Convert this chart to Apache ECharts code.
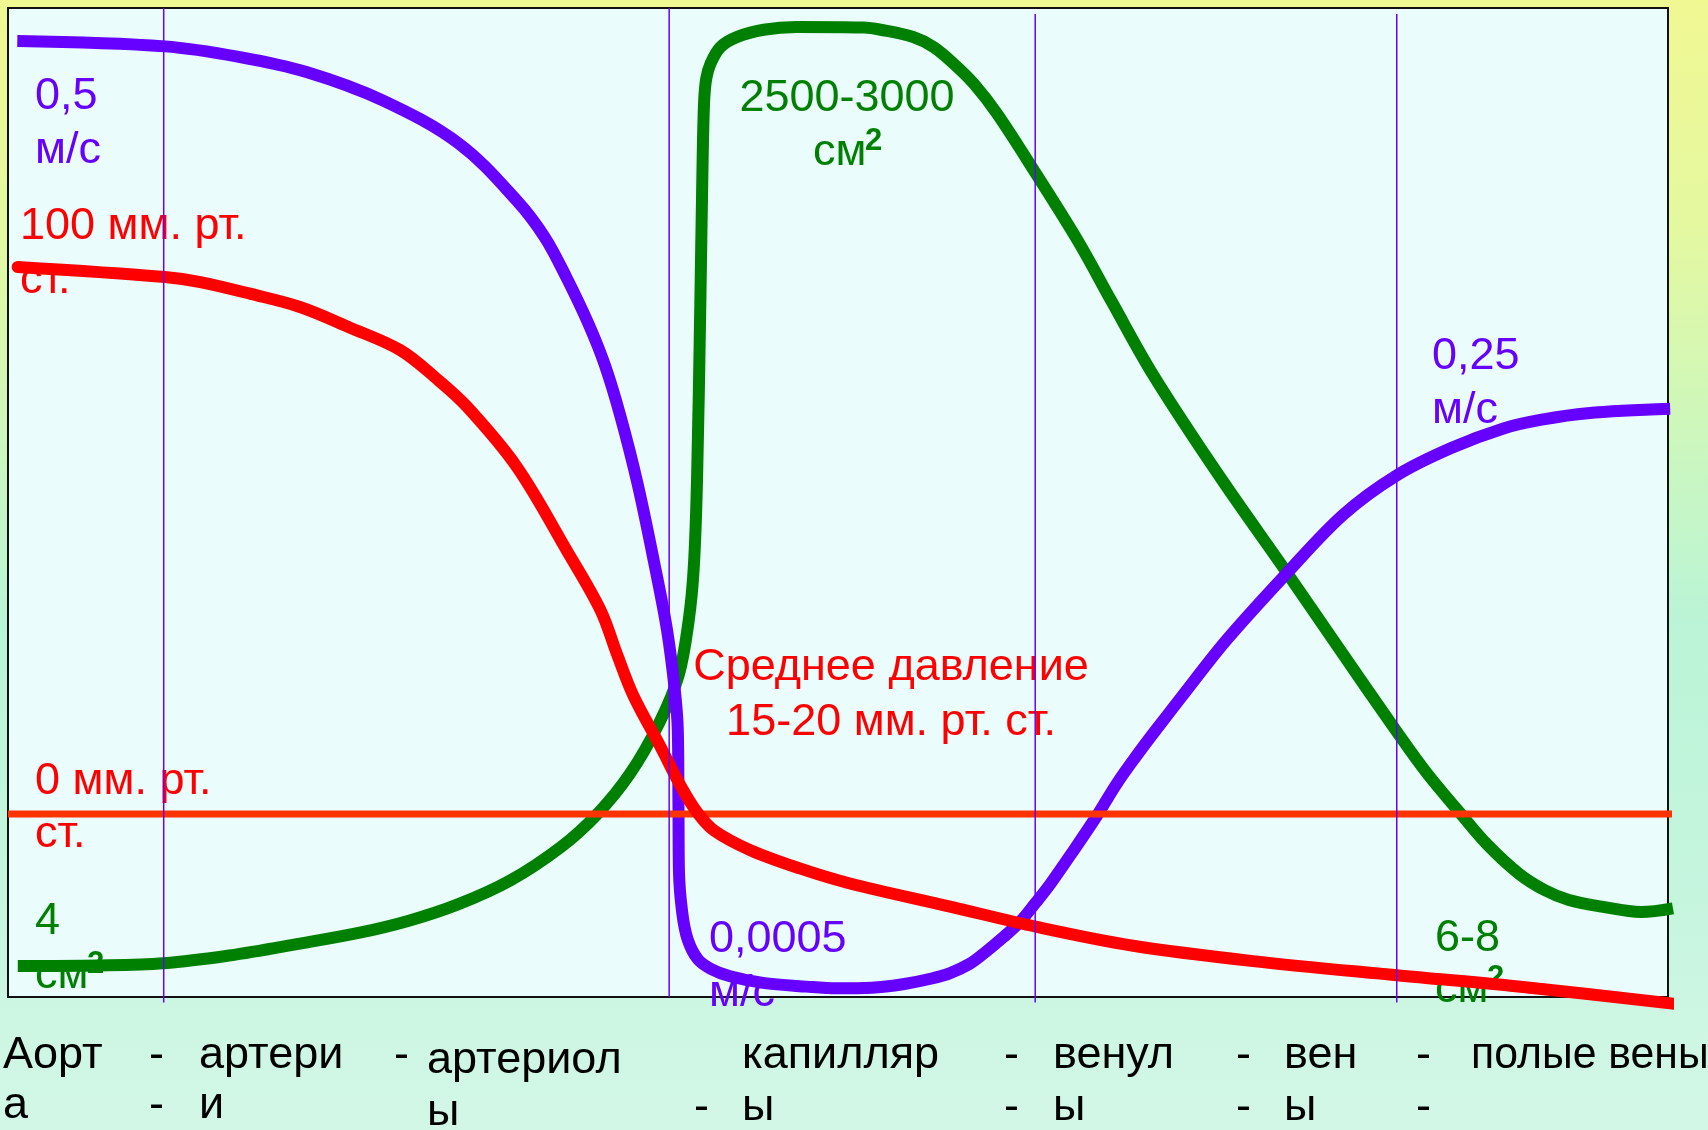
<!DOCTYPE html>
<html><head><meta charset="utf-8">
<script src="https://cdn.jsdelivr.net/npm/echarts@6/dist/echarts.min.js"></script>
<style>html,body{margin:0;padding:0;overflow:hidden}#c{width:1708px;height:1130px}</style>
</head><body><div id="c"></div>
<script>
// x: position along the vascular bed (0..100), y: relative level (0..100)
const velocity = [[0.56,96.66],[9.45,96.12],[13.98,95.04],[17.98,93.53],[22.57,90.66],[27.17,86.28],[30.64,80.55],[32.35,76.78],[33.66,72.69],[34.97,68.06],[35.96,63.88],[36.88,58.81],[37.93,51.87],[38.91,44.05],[39.70,37.11],[40.16,31.17],[40.35,26.98],[40.39,19.27],[40.42,12.67],[40.62,8.48],[40.94,5.84],[41.54,3.85],[42.32,2.86],[43.50,2.09],[45.47,1.43],[48.10,1.05],[49.93,0.88],[52.03,0.94],[54.00,1.32],[55.64,1.87],[56.76,2.42],[57.94,3.36],[58.79,4.41],[59.97,6.06],[60.96,7.60],[61.88,9.47],[62.80,11.45],[64.17,14.76],[65.62,18.39],[66.80,21.59],[67.91,24.23],[69.09,26.87],[70.67,30.29],[73.36,36.01],[77.03,42.84],[80.45,48.79],[83.66,52.75],[86.94,55.51],[90.09,57.49],[92.39,58.37],[95.14,59.03],[100.13,59.47]];
const pressure = [[0.58,73.81],[9.45,72.80],[11.59,72.29],[14.63,71.09],[17.59,69.77],[20.54,67.73],[23.62,65.42],[25.79,62.56],[27.65,59.69],[30.64,53.63],[33.66,45.15],[35.70,39.10],[36.68,34.69],[37.66,30.51],[39.30,25.33],[40.55,21.26],[41.54,18.61],[42.52,16.85],[44.69,14.87],[47.70,13.00],[50.72,11.48],[56.76,9.14],[61.99,7.08],[67.78,5.18],[75.00,3.63],[83.66,2.20],[91.40,0.99],[100.66,-0.74]];
const area = [[0.59,3.14],[5.45,3.19],[9.38,3.41],[13.32,4.19],[17.59,5.40],[21.19,6.50],[24.15,7.71],[27.10,9.36],[30.25,11.78],[33.33,15.20],[35.50,18.50],[37.47,22.58],[39.24,27.75],[40.40,32.52],[41.00,38.00],[41.31,43.39],[41.51,52.42],[41.71,70.48],[41.83,83.15],[41.93,90.31],[42.06,92.84],[42.32,94.38],[42.91,96.04],[43.90,97.06],[45.52,97.80],[47.51,98.07],[51.55,98.02],[52.56,97.80],[54.53,97.06],[55.75,96.05],[56.96,94.38],[58.18,92.35],[59.58,89.32],[61.88,83.37],[64.50,76.32],[66.47,70.37],[69.03,62.78],[73.03,52.53],[77.07,42.84],[80.18,35.24],[83.69,26.76],[85.50,22.58],[87.47,18.61],[89.11,15.42],[91.04,12.44],[92.59,10.79],[94.03,9.80],[96.00,9.14],[98.39,8.59],[100.30,8.96]];
const vesselBorders = [9.38, 39.83, 61.88, 83.66];
const vesselBorderTop = [100, 100, 99.4, 99.4];
const vesselBorderBottom = [-0.55, 0, -0.55, -0.55];
const zeroPressure = [[0, 18.5], [100.56, 18.5]];

const bottomRow1 = ['Аорт', '-', 'артери', '-', 'артериол', 'капилляр', '-', 'венул', '-', 'вен', '-', 'полые вены'];
const bottomRow2 = ['а', '-', 'и', 'ы', '-', 'ы', '-', 'ы', '-', 'ы', '-'];

const PURPLE = '#6600ff', RED = '#ff0000', GREEN = '#008000', ORANGE = '#ff3300';
const FONT = '45px "Liberation Sans", Arial, sans-serif';

function txt(text, x, y, color, align, sx) {
  align = align || 'left';
  return { type: 'text', x: x, y: y, z: 1, silent: true, scaleX: sx || 1,
    style: { text: text, fill: color, font: FONT, align: align, textAlign: align, verticalAlign: 'middle', textVerticalAlign: 'middle' } };
}
function sup(x, y, color) {
  return { type: 'text', x: x, y: y, z: 1, silent: true,
    style: { text: '2', fill: color, font: 'bold 31px "Liberation Sans", Arial, sans-serif', align: 'left', textAlign: 'left', verticalAlign: 'middle', textVerticalAlign: 'middle' } };
}

const row1X = [3, 149, 199, 394, 427, 742, 1004, 1053, 1236, 1284, 1416, 1471];
const row1Y = [1056, 1056, 1056, 1056, 1061, 1056, 1056, 1056, 1056, 1056, 1056, 1056];
const row1SX = [1, 1, 1, 1, 1, 1, 1, 1, 1, 1, 1, 0.95];
const row2X = [3, 149, 199, 427, 694, 742, 1004, 1053, 1236, 1284, 1416];
const row2Y = [1106, 1106, 1106, 1113, 1108, 1108, 1108, 1108, 1108, 1108, 1108];

const graphics = [];
bottomRow1.forEach((t, i) => graphics.push(txt(t, row1X[i], row1Y[i], '#000', 'left', row1SX[i])));
bottomRow2.forEach((t, i) => graphics.push(txt(t, row2X[i], row2Y[i], '#000')));

graphics.push(txt('0,5', 35, 97, PURPLE), txt('м/с', 35, 151, PURPLE));
graphics.push(txt('100 мм. рт.', 20, 227, RED), txt('ст.', 20, 281, RED));
graphics.push(txt('2500-3000', 847, 99, GREEN, 'center'), txt('см', 813, 153, GREEN), sup(865, 141, GREEN));
graphics.push(txt('0,25', 1432, 357, PURPLE), txt('м/с', 1432, 411, PURPLE));
graphics.push(txt('Среднее давление', 891, 668, RED, 'center'), txt('15-20 мм. рт. ст.', 891, 723, RED, 'center'));
graphics.push(txt('0 мм. рт.', 35, 782, RED), txt('ст.', 35, 835, RED));
graphics.push(txt('4', 35, 922, GREEN), txt('см', 35, 976, GREEN), sup(87, 964, GREEN));
graphics.push(txt('0,0005', 709, 940, PURPLE), txt('м/с', 709, 994, PURPLE));
graphics.push(txt('6-8', 1435, 939, GREEN), txt('см', 1435, 990, GREEN), sup(1487, 978, GREEN));

function curve(data, color, z, width, cap) {
  return { type: 'line', data: data, smooth: 0.35, symbol: 'none', showSymbol: false,
    clip: false, silent: true, z: z, lineStyle: { width: width, color: color, cap: cap || 'butt', join: 'round' } };
}

const series = [
  curve(area, GREEN, 2, 12),
  curve(velocity, PURPLE, 3, 12),
  { type: 'line', data: zeroPressure, symbol: 'none', clip: false, silent: true, z: 4, lineStyle: { width: 7, color: ORANGE } },
  curve(pressure, RED, 5, 12, 'round')
];
vesselBorders.forEach((v, i) => series.push({
  type: 'line', data: [[v, vesselBorderTop[i]], [v, vesselBorderBottom[i]]], symbol: 'none', clip: false, silent: true, z: 6,
  lineStyle: { width: 1.5, color: PURPLE }
}));

const chart = echarts.init(document.getElementById('c'), null, { renderer: 'canvas' });
chart.setOption({
  animation: false,
  backgroundColor: new echarts.graphic.LinearGradient(0, 0, 0, 1, [
    { offset: 0, color: '#f0f892' }, { offset: 0.2, color: '#e4f8a0' }, { offset: 0.38, color: '#cdf7bc' },
    { offset: 0.55, color: '#baf4d6' }, { offset: 0.8, color: '#c6f5de' }, { offset: 1, color: '#d3f7e7' }
  ]),
  grid: { left: 8, top: 8, right: 40, bottom: 133, show: true, backgroundColor: '#ebfcfd', borderColor: '#111', borderWidth: 2 },
  xAxis: { type: 'value', min: 0, max: 100, show: false },
  yAxis: { type: 'value', min: 0, max: 100, show: false },
  graphic: { elements: graphics },
  series: series
});
</script></body></html>
